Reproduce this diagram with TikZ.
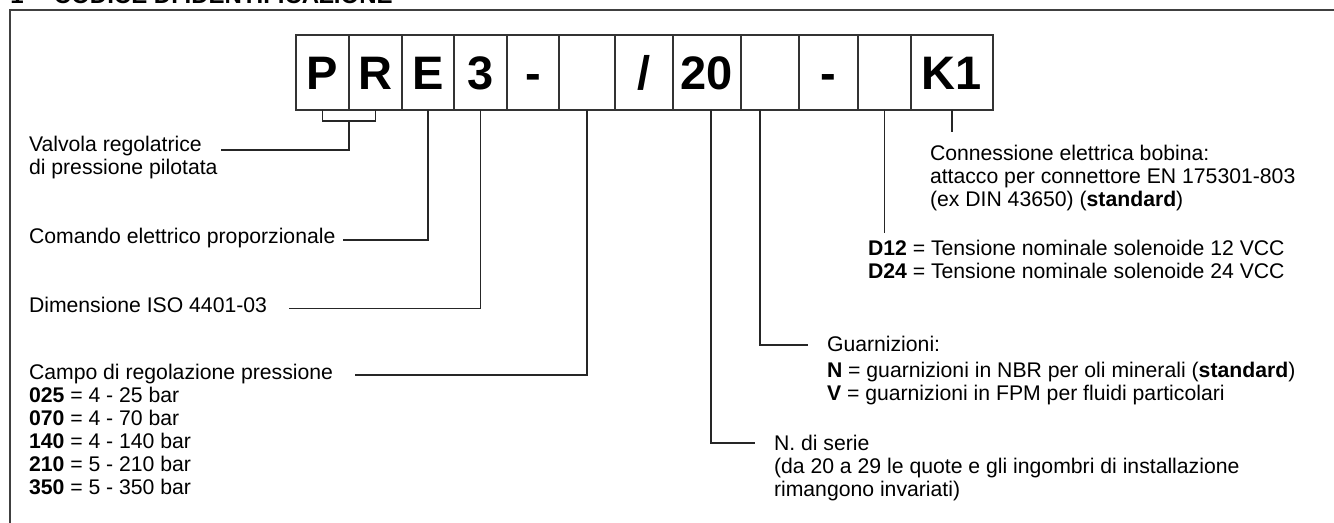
\documentclass[tikz,border=0pt]{standalone}
\usepackage{fontspec}
\setmainfont{Liberation Sans}
\begin{document}
\begin{tikzpicture}[x=0.5pt,y=-0.5pt,
  lbl/.style={anchor=base west,inner sep=0,outer sep=0,font=\fontsize{10.6}{12}\selectfont},
  cbox/.style={draw=black!80,line width=0.6pt,inner sep=0,outer sep=0,minimum height=37.5pt,
    text height=16.8pt,text depth=0pt,font=\bfseries\fontsize{23.5}{26}\selectfont},
  conn/.style={draw=black!85,line width=0.55pt},
  frame/.style={draw=black!75,line width=0.8pt}]
\useasboundingbox (0,0) rectangle (1334,523);
% title (cut by the page edge)
\node[anchor=base west,inner sep=0,font=\bfseries\fontsize{12}{14}\selectfont] (title) at (10,4) {1 -\hspace{0.37em} CODICE DI IDENTIFICAZIONE};
% frame
\draw[frame] (1400,10) -- (10,10) -- (10,600);
% code boxes
\node[cbox,minimum width=26.5pt] (b1) at (322.5,72.5) {P};
\node[cbox,minimum width=26.5pt] (b2) at (375.5,72.5) {R};
\node[cbox,minimum width=26pt]   (b3) at (428,72.5) {E};
\node[cbox,minimum width=26.5pt] (b4) at (480.5,72.5) {3};
\node[cbox,minimum width=26pt]   (b5) at (533,72.5) {-};
\node[cbox,minimum width=28pt]   (b6) at (587,72.5) {};
\node[cbox,minimum width=29pt]   (b7) at (644,72.5) {/};
\node[cbox,minimum width=34pt]   (b8) at (707,72.5) {20};
\node[cbox,minimum width=29pt]   (b9) at (770,72.5) {};
\node[cbox,minimum width=29.5pt] (b10) at (828.5,72.5) {-};
\node[cbox,minimum width=26.5pt] (b11) at (884.5,72.5) {};
\node[cbox,minimum width=41pt]   (b12) at (952,72.5) {K1};
% left labels
\node[lbl] (t1a) at (29,152) {Valvola regolatrice};
\node[lbl] (t1b) at (29,175) {di pressione pilotata};
\node[lbl] (t2) at (29,243.5) {Comando elettrico proporzionale};
\node[lbl] (t3) at (29,313) {Dimensione ISO 4401-03};
\node[lbl] (t4) at (29,380) {Campo di regolazione pressione};
\node[lbl] (t4a) at (29,403) {\textbf{025} = 4 - 25 bar};
\node[lbl] (t4b) at (29,426) {\textbf{070} = 4 - 70 bar};
\node[lbl] (t4c) at (29,449) {\textbf{140} = 4 - 140 bar};
\node[lbl] (t4d) at (29,472) {\textbf{210} = 5 - 210 bar};
\node[lbl] (t4e) at (29,495) {\textbf{350} = 5 - 350 bar};
% right labels
\node[lbl] (t8a) at (930,161) {Connessione elettrica bobina:};
\node[lbl] (t8b) at (930,184) {attacco per connettore EN 175301-803};
\node[lbl] (t8c) at (930,207) {(ex DIN 43650) (\textbf{standard})};
\node[lbl] (t7a) at (868,256) {\textbf{D12} = Tensione nominale solenoide 12 VCC};
\node[lbl] (t7b) at (868,279) {\textbf{D24} = Tensione nominale solenoide 24 VCC};
\node[lbl] (t6a) at (827,352) {Guarnizioni:};
\node[lbl] (t6b) at (827,378) {\textbf{N} = guarnizioni in NBR per oli minerali (\textbf{standard})};
\node[lbl] (t6c) at (827,401) {\textbf{V} = guarnizioni in FPM per fluidi particolari};
\node[lbl] (t5a) at (774,451) {N. di serie};
\node[lbl] (t5b) at (774,474) {(da 20 a 29 le quote e gli ingombri di installazione};
\node[lbl] (t5c) at (774,497) {rimangono invariati)};
% connector ends
\coordinate (brm) at (349,121);
\coordinate (eValv) at (221,150);
\coordinate (eCom) at (343,240);
\coordinate (eDim) at (289,308.5);
\coordinate (eCampo) at (355,375);
\coordinate (eSerie) at (755,443);
\coordinate (eGuar) at (808,345);
\coordinate (eD12) at (884.5,233);
\coordinate (eK1) at (952,132);
% connectors
\draw[conn] (b1.south) -- ++(0,11) -| (b2.south);
\draw[conn] (brm) |- (eValv);
\draw[conn] (b3.south) |- (eCom);
\draw[conn] (b4.south) |- (eDim);
\draw[conn] (b6.south) |- (eCampo);
\draw[conn] ([xshift=2pt]b8.south) |- (eSerie);
\draw[conn] ([xshift=-5pt]b9.south) |- (eGuar);
\draw[conn] (b11.south) -- (eD12);
\draw[conn] (b12.south) -- (eK1);
\end{tikzpicture}
\end{document}
